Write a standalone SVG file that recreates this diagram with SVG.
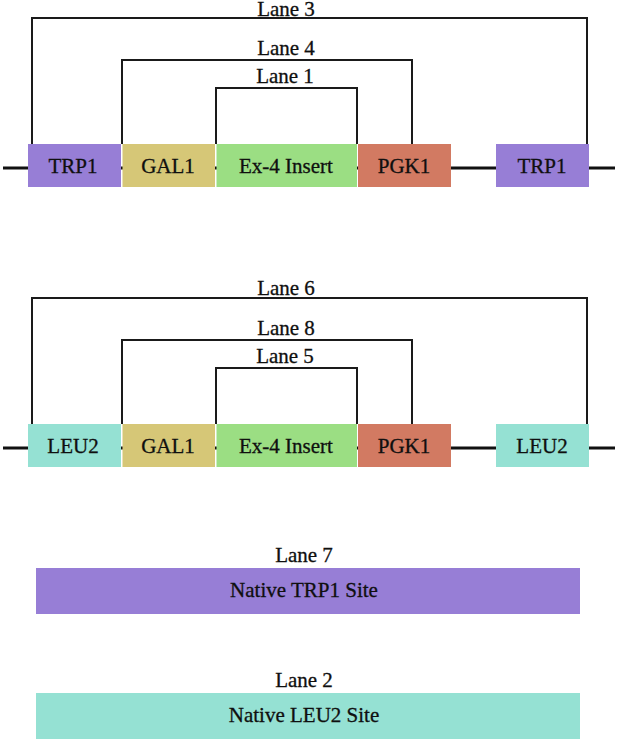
<svg xmlns="http://www.w3.org/2000/svg" width="617" height="741" viewBox="0 0 617 741">
<style>
text{font-family:"Liberation Serif","DejaVu Serif","Times New Roman",serif;font-size:21px;fill:#0f0f0f;stroke:#0f0f0f;stroke-width:0.3;text-anchor:middle}
.bb{stroke:#111;stroke-width:3;fill:none}
.br{stroke:#1a1a1a;stroke-width:2;fill:none}
.trp{fill:#977ed6}
.leu{fill:#95e1d3}
.gal{fill:#d6c777}
.ex{fill:#9bde83}
.pgk{fill:#d27a62}
</style>
<rect width="617" height="741" fill="#fff"/>
<g id="connectors">
<line class="bb" x1="3" y1="168" x2="615" y2="168"/>
<line class="bb" x1="3" y1="448" x2="615" y2="448"/>
<path class="br" d="M32 144V18H587V144"/>
<path class="br" d="M122 144V60H412V144"/>
<path class="br" d="M216 144V88H357V144"/>
<path class="br" d="M32 424V298H587V424"/>
<path class="br" d="M122 424V340H412V424"/>
<path class="br" d="M216 424V368H357V424"/>
</g>
<g id="lane3"><text x="286" y="16">Lane 3</text></g>
<g id="lane4"><text x="286" y="55">Lane 4</text></g>
<g id="lane1"><text x="285" y="83">Lane 1</text></g>
<g id="lane6"><text x="286" y="295">Lane 6</text></g>
<g id="lane8"><text x="286" y="335">Lane 8</text></g>
<g id="lane5"><text x="285" y="363">Lane 5</text></g>
<g id="trp1-left"><rect class="trp" x="28" y="144" width="93" height="43"/><text x="73" y="173">TRP1</text></g>
<g id="gal1-top"><rect class="gal" x="122.5" y="144" width="92.5" height="43"/><text x="168" y="173">GAL1</text></g>
<g id="ex4-top"><rect class="ex" x="216.5" y="144" width="140.5" height="43"/><text x="286" y="173">Ex-4 Insert</text></g>
<g id="pgk1-top"><rect class="pgk" x="358" y="144" width="93" height="43"/><text x="404" y="173">PGK1</text></g>
<g id="trp1-right"><rect class="trp" x="496" y="144" width="93" height="43"/><text x="542" y="173">TRP1</text></g>
<g id="leu2-left"><rect class="leu" x="28" y="424" width="93" height="43"/><text x="73" y="453">LEU2</text></g>
<g id="gal1-mid"><rect class="gal" x="122.5" y="424" width="92.5" height="43"/><text x="168" y="453">GAL1</text></g>
<g id="ex4-mid"><rect class="ex" x="216.5" y="424" width="140.5" height="43"/><text x="286" y="453">Ex-4 Insert</text></g>
<g id="pgk1-mid"><rect class="pgk" x="358" y="424" width="93" height="43"/><text x="404" y="453">PGK1</text></g>
<g id="leu2-right"><rect class="leu" x="496" y="424" width="93" height="43"/><text x="542" y="453">LEU2</text></g>
<g id="native-trp1"><text x="304" y="562">Lane 7</text><rect class="trp" x="36" y="568" width="544" height="46"/><text x="304" y="597">Native TRP1 Site</text></g>
<g id="native-leu2"><text x="304" y="687">Lane 2</text><rect class="leu" x="36" y="693" width="544" height="46"/><text x="304" y="722">Native LEU2 Site</text></g>
</svg>
